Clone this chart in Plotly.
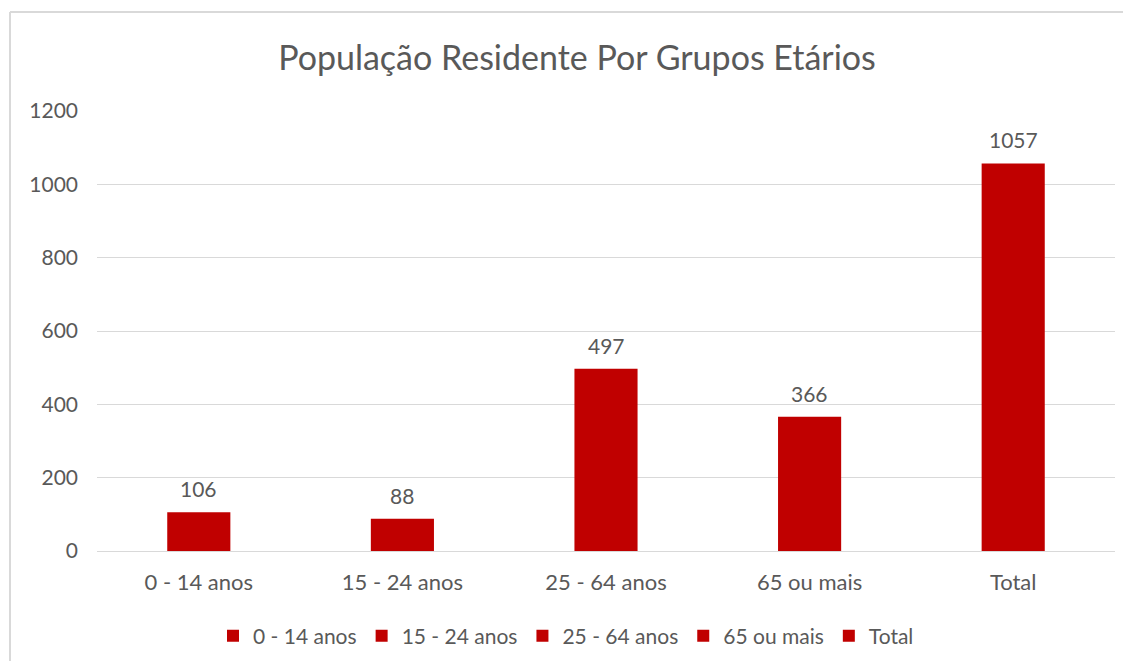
import plotly.graph_objects as go

categories = ["0 - 14 anos", "15 - 24 anos", "25 - 64 anos", "65 ou mais", "Total"]
values = [106, 88, 497, 366, 1057]
y_ticks = [0, 200, 400, 600, 800, 1000, 1200]

BAR = "#C00000"
TXT = "#595959"
FONT = "Lato"

# page body has an 8px margin on every side; keep the figure inside the window
OFF = 8
W, H = 1131 - 2 * OFF, 669 - 2 * OFF
L, T = 97 - OFF, 111 - OFF
R = W - (1115 - OFF)
B = H - (551 - OFF)
pw, ph = W - L - R, H - T - B


def px(x):
    return (x - OFF - L) / pw


def py(y):
    return (H - B - (y - OFF)) / ph


fig = go.Figure()
for c, v in zip(categories, values):
    fig.add_trace(go.Bar(
        x=[c], y=[v], name=c, width=0.31,
        marker=dict(color=BAR, line=dict(width=0)),
    ))

annotations = [
    dict(x=c, y=v, xref="x", yref="y", text=str(v), showarrow=False,
         yanchor="bottom", yshift=9,
         font=dict(family=FONT, size=21, color=TXT))
    for c, v in zip(categories, values)
]

border = dict(color="#D9D9D9", width=2)

fig.update_layout(
    width=W, height=H,
    margin=dict(l=L, r=R, t=T, b=B),
    paper_bgcolor="white", plot_bgcolor="white",
    barmode="overlay",
    font=dict(family=FONT, size=21, color=TXT),
    title=dict(text="População Residente Por Grupos Etários",
               x=(577 - OFF) / W, xanchor="center", xref="container",
               y=1 - (58 - OFF) / H, yanchor="middle", yref="container",
               font=dict(family=FONT, size=34, color=TXT)),
    xaxis=dict(categoryorder="array", categoryarray=categories,
               showgrid=False, showline=False, ticks="",
               ticklabelstandoff=16,
               tickfont=dict(family=FONT, size=22, color=TXT)),
    yaxis=dict(range=[0, 1200], tickvals=y_ticks, showgrid=True,
               gridcolor="#D9D9D9", gridwidth=1.3, zeroline=True,
               zerolinecolor="#D9D9D9", zerolinewidth=1.3, showline=False,
               ticks="", ticklabelstandoff=18,
               tickfont=dict(family=FONT, size=21, color=TXT)),
    legend=dict(orientation="h", x=(566 - OFF) / W, xanchor="center", xref="container",
                y=1 - (636 - OFF) / H, yanchor="middle", yref="container",
                font=dict(family=FONT, size=21, color=TXT),
                itemwidth=30, tracegroupgap=0, traceorder="normal"),
    annotations=annotations,
    shapes=[
        dict(type="line", xref="paper", yref="paper",
             x0=px(10), x1=px(1123), y0=py(12), y1=py(12),
             line=border, layer="below"),
        dict(type="line", xref="paper", yref="paper",
             x0=px(10), x1=px(10), y0=py(12), y1=py(661),
             line=border, layer="below"),
    ],
)

fig.write_html("out.html")
